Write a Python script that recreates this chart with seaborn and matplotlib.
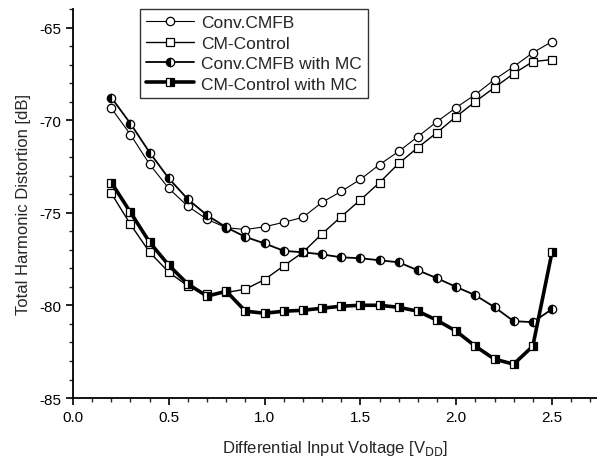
import numpy as np
import pandas as pd
import matplotlib
matplotlib.use("Agg")
import matplotlib.pyplot as plt
from matplotlib.ticker import MultipleLocator
import seaborn as sns

x_vals = [0.2, 0.3, 0.4, 0.5, 0.6, 0.7, 0.8, 0.9, 1.0, 1.1, 1.2, 1.3,
          1.4, 1.5, 1.6, 1.7, 1.8, 1.9, 2.0, 2.1, 2.2, 2.3, 2.4, 2.5]

conv_cmfb = [-69.35, -70.77, -72.38, -73.68, -74.65, -75.35, -75.8, -75.9,
             -75.75, -75.51, -75.24, -74.43, -73.84, -73.19, -72.39, -71.68,
             -70.88, -70.07, -69.31, -68.61, -67.80, -67.10, -66.35, -65.75]

cm_control = [-73.95, -75.62, -77.13, -78.2, -78.96, -79.39, -79.3, -79.12,
              -78.6, -77.86, -77.13, -76.13, -75.2, -74.3, -73.36, -72.33,
              -71.47, -70.66, -69.80, -68.99, -68.23, -67.48, -66.83, -66.72]

conv_cmfb_mc = [-68.77, -70.18, -71.74, -73.14, -74.27, -75.13, -75.78, -76.3,
                -76.65, -77.05, -77.13, -77.24, -77.4, -77.45, -77.56, -77.67,
                -78.1, -78.53, -79.0, -79.45, -80.09, -80.85, -80.9, -80.2]

cm_control_mc = [-73.36, -74.97, -76.59, -77.83, -78.85, -79.5, -79.23, -80.31,
                 -80.42, -80.31, -80.26, -80.15, -80.04, -79.99, -79.99, -80.1,
                 -80.31, -80.8, -81.39, -82.2, -82.9, -83.17, -82.2, -77.13]

series_names = ["Conv.CMFB", "CM-Control", "Conv.CMFB with MC", "CM-Control with MC"]
series_vals = [conv_cmfb, cm_control, conv_cmfb_mc, cm_control_mc]

x_ticks = [0.0, 0.5, 1.0, 1.5, 2.0, 2.5]
y_ticks = [-85, -80, -75, -70, -65]

sns.set_style("ticks")
plt.rcParams['font.family'] = ['Liberation Sans', 'DejaVu Sans']

fig = plt.figure(figsize=(5.97, 4.64), dpi=100)
ax = fig.add_axes([0.1223, 0.140, 0.8777, 0.838])

styles = [
    dict(marker="o", lw=0.8, mfc="white", fillstyle="full"),
    dict(marker="s", lw=1.0, mfc="white", fillstyle="full"),
    dict(marker="o", lw=1.3, mfc="black", fillstyle="left"),
    dict(marker="s", lw=2.6, mfc="black", fillstyle="right"),
]

for name, vals, st in zip(series_names, series_vals, styles):
    df = pd.DataFrame({"x": x_vals, "y": vals})
    sns.lineplot(data=df, x="x", y="y", ax=ax, color="black", label=name,
                 linewidth=st["lw"], marker=st["marker"], markersize=6,
                 markerfacecolor=st["mfc"], markerfacecoloralt="white",
                 fillstyle=st["fillstyle"], markeredgecolor="black",
                 markeredgewidth=0.9)

ax.set_xlim(0.0, 2.735)
ax.set_ylim(-85, -64.0)
ax.set_xticks(x_ticks)
ax.set_xticklabels([f"{v:.1f}" for v in x_ticks])
ax.set_yticks(y_ticks)
ax.set_yticklabels([str(v) for v in y_ticks])
ax.xaxis.set_minor_locator(MultipleLocator(0.1))
ax.yaxis.set_minor_locator(MultipleLocator(1))
ax.tick_params(axis="both", which="major", direction="out", length=5, width=1.2,
               labelsize=11, colors="black")
ax.tick_params(axis="both", which="minor", direction="out", length=3, width=1.0)
for s in ["top", "right"]:
    ax.spines[s].set_visible(False)
for s in ["left", "bottom"]:
    ax.spines[s].set_linewidth(1.3)
    ax.spines[s].set_color("black")

ax.set_xlabel("Differential Input Voltage [V$_{\\mathrm{DD}}$]", fontsize=12, labelpad=10)
ax.set_ylabel("Total Harmonic Distortion [dB]", fontsize=12, labelpad=6)

leg = ax.legend(loc="upper left", bbox_to_anchor=(0.127, 1.0), fontsize=12.5,
                frameon=True, fancybox=False, edgecolor="black",
                handlelength=2.8, borderpad=0.35, labelspacing=0.3,
                handletextpad=0.4, borderaxespad=0.0)
leg.get_frame().set_linewidth(1.0)

fig.savefig("out.png", dpi=100)
